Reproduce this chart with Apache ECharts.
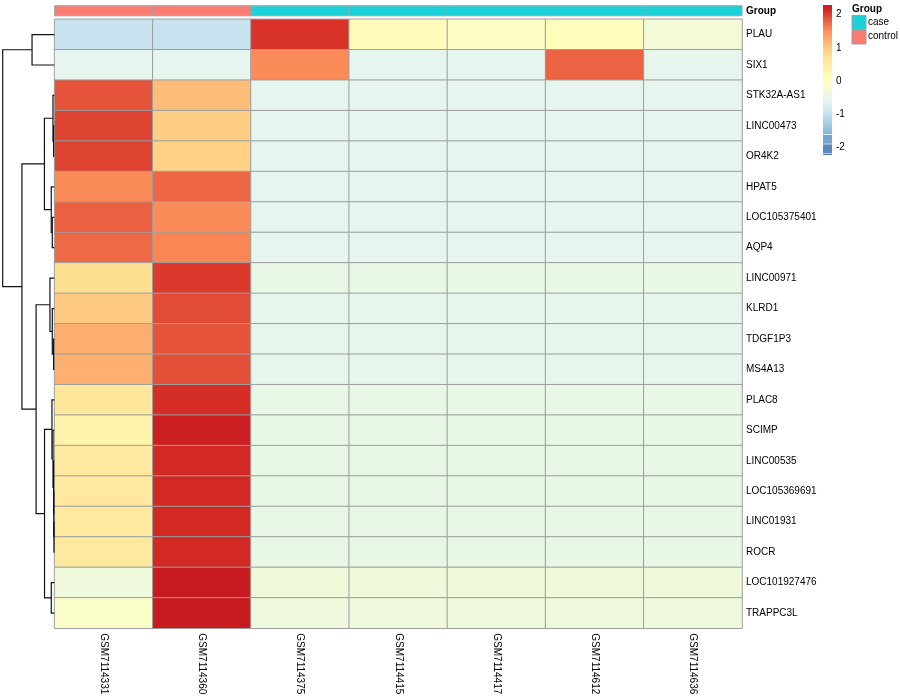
<!DOCTYPE html>
<html><head><meta charset="utf-8">
<script src="https://cdn.jsdelivr.net/npm/echarts@6/dist/echarts.min.js"></script>
<style>html,body{margin:0;padding:0;background:#fff}#c{width:900px;height:700px}</style>
</head><body><div id="c"></div>
<script>
// ---------------- data ----------------
const samples = ['GSM7114331','GSM7114360','GSM7114375','GSM7114415','GSM7114417','GSM7114612','GSM7114636'];
const sampleGroup = ['control','control','case','case','case','case','case'];
const groupNames = ['case','control'];
const groupColors = ['#1DD1D9','#F97C73'];
const genes = ['PLAU','SIX1','STK32A-AS1','LINC00473','OR4K2','HPAT5','LOC105375401','AQP4','LINC00971','KLRD1','TDGF1P3','MS4A13','PLAC8','SCIMP','LINC00535','LOC105369691','LINC01931','ROCR','LOC101927476','TRAPPC3L'];
const expr = [
  [-0.95,-0.95, 2.08, 0.10,-0.03, 0.08,-0.30],
  [-0.58,-0.58, 1.55,-0.58,-0.58, 1.78,-0.58],
  [ 1.88, 1.10,-0.58,-0.58,-0.58,-0.58,-0.58],
  [ 1.97, 0.95,-0.58,-0.58,-0.58,-0.58,-0.58],
  [ 1.97, 0.92,-0.58,-0.58,-0.58,-0.58,-0.58],
  [ 1.55, 1.76,-0.58,-0.58,-0.58,-0.58,-0.58],
  [ 1.80, 1.55,-0.58,-0.58,-0.58,-0.58,-0.58],
  [ 1.74, 1.58,-0.58,-0.58,-0.58,-0.58,-0.58],
  [ 0.80, 2.03,-0.50,-0.50,-0.50,-0.50,-0.50],
  [ 1.00, 1.92,-0.56,-0.56,-0.56,-0.56,-0.56],
  [ 1.25, 1.88,-0.56,-0.56,-0.56,-0.56,-0.56],
  [ 1.22, 1.90,-0.56,-0.56,-0.56,-0.56,-0.56],
  [ 0.62, 2.10,-0.50,-0.50,-0.50,-0.50,-0.50],
  [ 0.35, 2.25,-0.50,-0.50,-0.50,-0.50,-0.50],
  [ 0.55, 2.15,-0.50,-0.50,-0.50,-0.50,-0.50],
  [ 0.55, 2.15,-0.50,-0.50,-0.50,-0.50,-0.50],
  [ 0.55, 2.15,-0.50,-0.50,-0.50,-0.50,-0.50],
  [ 0.55, 2.15,-0.50,-0.50,-0.50,-0.50,-0.50],
  [-0.36, 2.29,-0.33,-0.33,-0.33,-0.33,-0.33],
  [-0.08, 2.29,-0.38,-0.38,-0.38,-0.38,-0.38]
];
// row dendrogram: [height, left, right]; leaves are row indices
const rowTree = [10.2,
  [4.4, 0, 1],
  [6.4,
    [1.95, [0.26, 2, [0.14, 3, 4]], [0.6, 5, [0.4, 6, 7]]],
    [3.6,
      [0.86, 8, [0.4, 9, [0.14, 10, 11]]],
      [1.93, [0.46, 12, [0.26, 13, [0.14, 14, [0.1, 15, [0.06, 16, 17]]]]], [0.6, 18, 19]]
    ]
  ]
];
// colour scale anchors: value -> colour
const paletteValues = [-2.23, -1.48, -0.72, 0.03, 0.78, 1.54, 2.08, 2.29];
const paletteColors = ['#4575B4','#91BFDB','#E0F3F8','#FFFFBF','#FEE090','#FC8D59','#D73027','#C81B1F'];
const scaleMin = -2.23, scaleMax = 2.29;
const legendTicks = [-2, -1, 0, 1, 2];
// legend pieces: [low, high]; first is drawn as a gradient
const legendPieces = [[-1.60, 2.29], [-1.89, -1.62], [-2.17, -1.91], [-2.23, -2.19]];

// ---------------- helpers ----------------
function hex2rgb(h){return [1,3,5].map(i=>parseInt(h.substr(i,2),16));}
function colorAt(v){
  v = Math.max(scaleMin, Math.min(scaleMax, v));
  let i = 0;
  while (i < paletteValues.length - 2 && v > paletteValues[i+1]) i++;
  const f = (v - paletteValues[i]) / (paletteValues[i+1] - paletteValues[i]);
  const a = hex2rgb(paletteColors[i]), b = hex2rgb(paletteColors[i+1]);
  return 'rgb(' + a.map((x,k)=>Math.round(x + (b[k]-x)*f)).join(',') + ')';
}
const ramp = [];
for (let k = 0; k < 100; k++) ramp.push(colorAt(scaleMin + (scaleMax - scaleMin) * k / 99));

const heatData = [];
expr.forEach((row, r) => row.forEach((v, c) => heatData.push([c, r, v])));
const annotData = sampleGroup.map((g, i) => [i, 0, groupNames.indexOf(g)]);

const dendroLines = [];
function walk(node){
  if (typeof node === 'number') return {y: node + 0.5, h: 0};
  const L = walk(node[1]), R = walk(node[2]), h = node[0];
  dendroLines.push({coords: [[L.h, L.y], [h, L.y], [h, R.y], [R.h, R.y]]});
  return {y: (L.y + R.y) / 2, h: h};
}
walk(rowTree);

const FONT = 'Liberation Sans, Arial, Helvetica, sans-serif';
const chart = echarts.init(document.getElementById('c'), null, {renderer: 'canvas'});
const hmLeft = 54.6, hmTop = 19.3, hmW = 687.4, hmH = 609;

chart.setOption({
  animation: false,
  backgroundColor: '#fff',
  grid: [
    {left: hmLeft, top: hmTop, width: hmW, height: hmH},
    {left: hmLeft, top: 5.8, width: hmW, height: 10},
    {left: 2.7, top: hmTop, width: 51.6, height: hmH},
    {left: 823, top: 5, width: 9, height: 150}
  ],
  xAxis: [
    {gridIndex: 0, type: 'category', data: samples, position: 'bottom',
     axisLine: {show: false}, axisTick: {show: false}, splitLine: {show: false},
     axisLabel: {rotate: -90, fontSize: 10, color: '#000', fontFamily: FONT, margin: 5, interval: 0}},
    {gridIndex: 1, type: 'category', data: samples, show: false},
    {gridIndex: 2, type: 'value', min: 0, max: rowTree[0], inverse: true, show: false},
    {gridIndex: 3, type: 'value', min: 0, max: 1, show: false}
  ],
  yAxis: [
    {gridIndex: 0, type: 'category', data: genes, inverse: true, position: 'right',
     axisLine: {show: false}, axisTick: {show: false}, splitLine: {show: false},
     axisLabel: {fontSize: 10, color: '#000', fontFamily: FONT, margin: 4, interval: 0}},
    {gridIndex: 1, type: 'category', data: ['Group'], position: 'right',
     axisLine: {show: false}, axisTick: {show: false},
     axisLabel: {fontSize: 10, fontWeight: 'bold', color: '#000', fontFamily: FONT, margin: 4}},
    {gridIndex: 2, type: 'value', min: 0, max: genes.length, inverse: true, show: false},
    {gridIndex: 3, type: 'value', min: scaleMin, max: scaleMax, position: 'right',
     axisLine: {show: false}, axisTick: {show: false}, splitLine: {show: false},
     axisLabel: {customValues: legendTicks, fontSize: 10, color: '#000', fontFamily: FONT, margin: 4}}
  ],
  visualMap: {type: 'continuous', show: false, min: scaleMin, max: scaleMax, seriesIndex: 0, dimension: 2,
              inRange: {color: ramp}},
  series: [
    {type: 'heatmap', xAxisIndex: 0, yAxisIndex: 0, data: heatData,
     itemStyle: {borderColor: '#9E9E9E', borderWidth: 1}, emphasis: {disabled: true}, silent: true},
    {type: 'custom', xAxisIndex: 1, yAxisIndex: 1, data: annotData, silent: true,
     renderItem: (params, api) => {
       const c = api.coord([api.value(0), 0]);
       const s = api.size([1, 1]);
       return {type: 'rect', shape: {x: c[0]-s[0]/2, y: c[1]-s[1]/2, width: s[0], height: s[1]},
               style: {fill: groupColors[api.value(2)], stroke: '#A0A0A0', lineWidth: 1}};
     }},
    {type: 'lines', coordinateSystem: 'cartesian2d', xAxisIndex: 2, yAxisIndex: 2, polyline: true,
     data: dendroLines, silent: true, lineStyle: {color: '#111', width: 1.2, opacity: 1}},
    {type: 'custom', xAxisIndex: 3, yAxisIndex: 3, data: legendPieces, silent: true,
     renderItem: (params, api) => {
       const lo = api.value(0), hi = api.value(1);
       const p0 = api.coord([0, hi]), p1 = api.coord([1, lo]);
       let fill;
       if (params.dataIndex === 0) {
         const stops = [];
         for (let k = 0; k <= 20; k++) {
           const v = hi - (hi - lo) * k / 20;
           stops.push({offset: k / 20, color: colorAt(v)});
         }
         fill = new echarts.graphic.LinearGradient(0, 0, 0, 1, stops);
       } else {
         fill = colorAt((lo + hi) / 2);
       }
       return {type: 'rect', shape: {x: p0[0], y: p0[1], width: p1[0]-p0[0], height: p1[1]-p0[1]}, style: {fill: fill}};
     }}
  ],
  graphic: [
    {type: 'text', left: 852, top: 4, style: {text: 'Group', font: 'bold 10px ' + FONT, fill: '#000'}},
    {type: 'rect', left: 851.5, top: 15, shape: {width: 14, height: 14}, style: {fill: groupColors[0], stroke: '#A0A0A0', lineWidth: 1}},
    {type: 'rect', left: 851.5, top: 29.5, shape: {width: 14, height: 14}, style: {fill: groupColors[1], stroke: '#A0A0A0', lineWidth: 1}},
    {type: 'text', left: 868, top: 17, style: {text: groupNames[0], font: '10px ' + FONT, fill: '#000'}},
    {type: 'text', left: 868, top: 31.5, style: {text: groupNames[1], font: '10px ' + FONT, fill: '#000'}}
  ]
});
</script>
</body></html>
